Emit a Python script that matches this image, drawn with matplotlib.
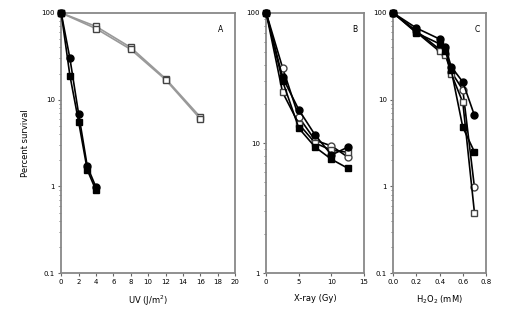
import matplotlib
matplotlib.use("Agg")
import matplotlib.pyplot as plt
from matplotlib.ticker import LogLocator, NullFormatter, FixedLocator, FixedFormatter

# Panel A: UV
uv_open_x = [0, 4, 8, 12, 16]
uv_open1_y = [100, 70, 40, 17.5, 6.3]
uv_open2_y = [100, 66, 38, 17, 6.0]
uv_fill_x = [0, 1, 2, 3, 4]
uv_fill1_y = [100, 30, 6.9, 1.7, 0.98]
uv_fill2_y = [100, 19, 5.6, 1.55, 0.9]

# Panel B: X-ray
xr_x = [0, 2.5, 5, 7.5, 10, 12.5]
xr_fill1_y = [100, 32, 18, 11.5, 8.1, 9.3]
xr_fill2_y = [100, 30, 13, 9.3, 7.5, 6.4]
xr_open1_y = [100, 38, 15.8, 10.5, 9.5, 7.8]
xr_open2_y = [100, 24.6, 14, 10, 8.8, 8.5]

# Panel C: H2O2
hp_x = [0, 0.2, 0.4, 0.45, 0.5, 0.6, 0.7]
hp_fill1_y = [100, 67, 50, 40, 24, 16, 6.6]
hp_fill2_y = [100, 59, 44, 36, 22, 4.8, 2.5]
hp_open1_y = [100, 62, 38, 34, 21, 13, 0.98]
hp_open2_y = [100, 60, 36, 33, 20, 9.3, 0.5]

fig = plt.figure(figsize=(5.1, 3.24), dpi=100)
axA = fig.add_axes([0.120, 0.157, 0.341, 0.803])
axB = fig.add_axes([0.522, 0.157, 0.192, 0.803])
axC = fig.add_axes([0.771, 0.157, 0.182, 0.803])

ms = 5
def filled(ax, x, y, m):
    ax.plot(x, y, '-', color='black', lw=1.2, marker=m, ms=ms, mfc='black', mec='black', zorder=4)
def opened(ax, x, y, m, lc='black'):
    ax.plot(x, y, '-', color=lc, lw=1.2, marker=m, ms=ms, mfc='white', mec='#444444', zorder=3)

opened(axA, uv_open_x, uv_open1_y, 's', lc='#999999')
opened(axA, uv_open_x, uv_open2_y, 's', lc='#999999')
filled(axA, uv_fill_x, uv_fill1_y, 'o')
filled(axA, uv_fill_x, uv_fill2_y, 's')

opened(axB, xr_x, xr_open1_y, 'o')
opened(axB, xr_x, xr_open2_y, 's')
filled(axB, xr_x, xr_fill1_y, 'o')
filled(axB, xr_x, xr_fill2_y, 's')

opened(axC, hp_x, hp_open1_y, 'o')
opened(axC, hp_x, hp_open2_y, 's')
filled(axC, hp_x, hp_fill1_y, 'o')
filled(axC, hp_x, hp_fill2_y, 's')

fs = 5
for ax in (axA, axB, axC):
    ax.set_yscale('log')
    for s in ax.spines.values():
        s.set_color('#888888')
        s.set_linewidth(1.3)
    ax.tick_params(labelsize=fs, length=2.5, width=0.8, color='#666666', pad=2)
    ax.tick_params(which='minor', length=1.5, width=0.6, color='#666666')
    ax.yaxis.set_minor_locator(LogLocator(base=10, subs=range(2, 10)))
    ax.yaxis.set_minor_formatter(NullFormatter())

axA.set_xlim(0, 20)
axA.set_xticks(range(0, 21, 2))
axA.set_ylim(0.1, 100)
axA.yaxis.set_major_locator(FixedLocator([0.1, 1, 10, 100]))
axA.yaxis.set_major_formatter(FixedFormatter(['0.1', '1', '10', '100']))
axA.set_xlabel('UV (J/m$^2$)', fontsize=6, labelpad=6)
axA.set_ylabel('Percent survival', fontsize=6, labelpad=8)

axB.set_xlim(0, 15)
axB.set_xticks([0, 5, 10, 15])
axB.set_ylim(1, 100)
axB.yaxis.set_major_locator(FixedLocator([1, 10, 100]))
axB.yaxis.set_major_formatter(FixedFormatter(['1', '10', '100']))
axB.set_xlabel('X-ray (Gy)', fontsize=6, labelpad=6)

axC.set_xlim(0, 0.8)
axC.set_xticks([0, 0.2, 0.4, 0.6, 0.8])
axC.set_xticklabels(['0.0', '0.2', '0.4', '0.6', '0.8'])
axC.set_ylim(0.1, 100)
axC.yaxis.set_major_locator(FixedLocator([0.1, 1, 10, 100]))
axC.yaxis.set_major_formatter(FixedFormatter(['0.1', '1', '10', '100']))
axC.set_xlabel('H$_2$O$_2$ (mM)', fontsize=6, labelpad=6)

for ax, lab in ((axA, 'A'), (axB, 'B'), (axC, 'C')):
    ax.text(0.93, 0.955, lab, transform=ax.transAxes, fontsize=5.5, ha='right', va='top')

for ax in (axA, axB, axC):
    for l in ax.get_lines():
        l.set_clip_on(False)

fig.savefig('out.png', dpi=100)
